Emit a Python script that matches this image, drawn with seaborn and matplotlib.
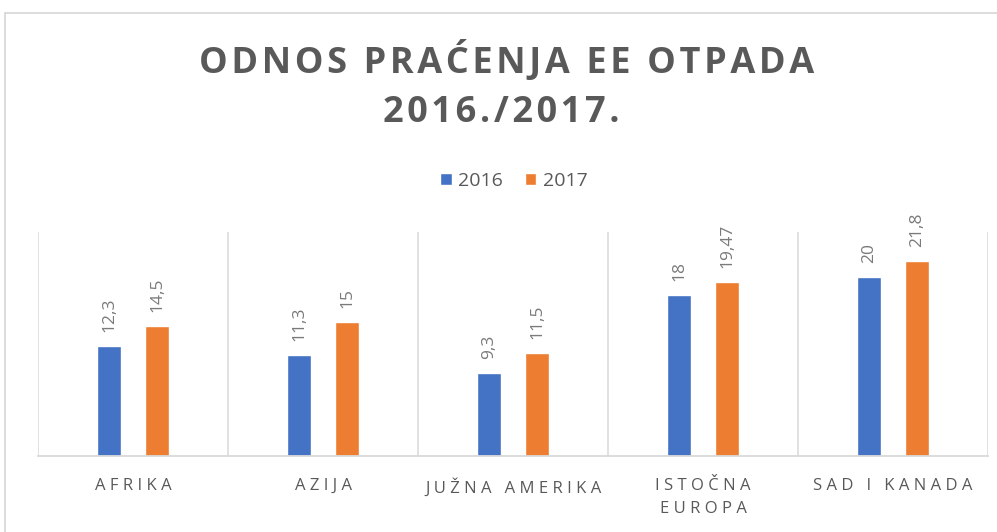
import matplotlib
matplotlib.use("Agg")
import matplotlib.pyplot as plt
import seaborn as sns
import pandas as pd
from matplotlib.patches import Rectangle

# podaci s grafa
regions = ["AFRIKA", "AZIJA", "JUŽNA AMERIKA", "ISTOČNA\nEUROPA", "SAD I KANADA"]
years = ["2016", "2017"]
vals_2016 = [12.3, 11.3, 9.3, 18, 20]
vals_2017 = [14.5, 15, 11.5, 19.47, 21.8]
colors = ["#4472C4", "#ED7D31"]

df = pd.DataFrame({
    "regija": regions * 2,
    "godina": [years[0]] * len(regions) + [years[1]] * len(regions),
    "vrijednost": vals_2016 + vals_2017,
})

sns.set_theme(style="white")
plt.rcParams["font.family"] = ["Open Sans", "DejaVu Sans"]
GREY = "#595959"
LINE = "#d9d9d9"


def spaced(s, sep="\u2009"):
    # razmak izmedju slova, kao u Excelu
    return "\n".join(sep.join(line) for line in s.split("\n"))


def fmt(v):
    return f"{v:g}".replace(".", ",")


W, H = 997, 532
fig = plt.figure(figsize=(W / 100, H / 100), dpi=100)
ax = fig.add_axes([38 / W, 1 - 456 / H, 950 / W, 224 / H])

sns.barplot(data=df, x="regija", y="vrijednost", hue="godina", palette=colors,
            saturation=1, width=0.505, gap=0.48, ax=ax)

ax.set_xlim(-0.5, len(regions) - 0.5)
ax.set_ylim(0, 25)
ax.set_xlabel("")
ax.set_ylabel("")
ax.set_yticks([])
for s in ["top", "left", "right"]:
    ax.spines[s].set_visible(False)
ax.spines["bottom"].set_color(LINE)
ax.spines["bottom"].set_linewidth(1.3)
for b in range(len(regions) + 1):
    ax.axvline(b - 0.5, color=LINE, lw=1.1, zorder=0)

for cont, vals in zip(ax.containers, [vals_2016, vals_2017]):
    ax.bar_label(cont, labels=[fmt(v) for v in vals], rotation=90, padding=10,
                 color="#7a7a7a", fontsize=12.5)

ax.set_xticks(range(len(regions)))
ax.set_xticklabels([spaced(r, "\u2009\u200a") for r in regions], fontsize=12, color=GREY)
for t in ax.get_xticklabels():
    t.set_linespacing(1.55)
ax.tick_params(axis="x", length=0, pad=16)

handles, labels = ax.get_legend_handles_labels()
ax.get_legend().remove()
fig.legend(handles, labels, loc="center", bbox_to_anchor=(514 / W, 1 - 181 / H),
           ncol=2, frameon=False, fontsize=14, handlelength=0.6, handleheight=0.6,
           handletextpad=0.35, columnspacing=1.1, labelcolor=GREY)

fig.text(507 / W, 1 - 61 / H, spaced("ODNOS PRAĆENJA EE OTPADA", "\u200a"), ha="center",
         va="center", fontsize=26, fontweight="bold", color=GREY)
fig.text(501 / W, 1 - 113 / H, spaced("2016./2017.", "\u200a"), ha="center", va="center",
         fontsize=26, fontweight="bold", color=GREY)

fig.patches.append(Rectangle((5 / W, -0.05), 1.1, 1 - 13 / H + 0.05, transform=fig.transFigure,
                             fill=False, edgecolor=LINE, lw=1.3))

fig.savefig("out.png", dpi=100)
